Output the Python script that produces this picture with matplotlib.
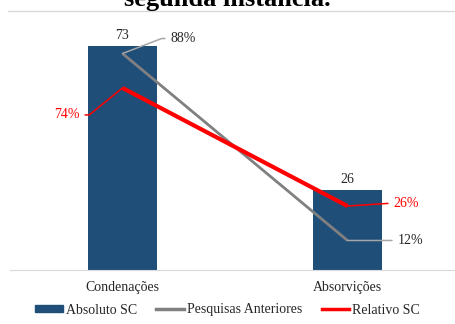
import matplotlib
matplotlib.use("Agg")
import matplotlib.pyplot as plt
from matplotlib.lines import Line2D
from matplotlib.patches import Patch

categories = ["Condenações", "Absorvições"]
absoluto_sc = [73, 26]
pesquisas_anteriores = [0.88, 0.12]
relativo_sc = [0.74, 0.26]
title = "segunda instância."

plt.rcParams["font.family"] = ["Liberation Serif", "DejaVu Serif"]

W, H = 455, 324
fig = plt.figure(figsize=(W / 100, H / 100), dpi=100)

ax = fig.add_axes([10 / W, (H - 270) / H, 450 / W, 246 / H])
ax2 = ax.twinx()

x = list(range(len(categories)))
blue = "#1F4E79"
gray = "#808080"
red = "#FF0000"

ax.bar(x, absoluto_sc, width=0.311, color=blue, zorder=1)
ax.set_xlim(-0.5, 1.5)
ax.set_ylim(0, 80)
ax2.set_ylim(0, 1.0)

for xi, v in zip(x, absoluto_sc):
    ax.annotate(f"{v}", (xi, v), xytext=(0, 4), textcoords="offset pixels",
                ha="center", va="bottom", fontsize=10, color="#262626")

ax2.plot(x, pesquisas_anteriores, color=gray, lw=2.0, solid_capstyle="butt", zorder=3)
ax2.plot(x, relativo_sc, color=red, lw=3.0, solid_capstyle="butt", zorder=4)

def lbl(xi, v, off, ha, col, lcol, angB, relpos):
    if angB is None:
        cs = "arc3,rad=0"
    else:
        cs = f"angle,angleA=0,angleB={angB},rad=0"
    ax2.annotate(f"{round(v * 100)}%", (xi, v), xytext=off, textcoords="offset pixels",
                 ha=ha, va="center", fontsize=10, color=col,
                 arrowprops=dict(arrowstyle="-", color=lcol, lw=1.1,
                                 shrinkA=2, shrinkB=0, relpos=relpos,
                                 connectionstyle=cs))

lbl(x[0], pesquisas_anteriores[0], (48, 15), "left", "#262626", "#A6A6A6", 21, (0, 0.5))
lbl(x[1], pesquisas_anteriores[1], (50, 0), "left", "#262626", "#A6A6A6", None, (0, 0.5))
lbl(x[0], relativo_sc[0], (-43, -27), "right", red, red, 39, (1, 0.5))
lbl(x[1], relativo_sc[1], (46, 3), "left", red, red, None, (0, 0.5))

for a in (ax, ax2):
    for s in ("top", "left", "right"):
        a.spines[s].set_visible(False)
    a.set_yticks([])
ax2.spines["bottom"].set_visible(False)
ax.spines["bottom"].set_color("#D9D9D9")
ax.set_xticks(x)
ax.set_xticklabels(categories, fontsize=10, color="#262626")
ax.tick_params(axis="x", length=0, pad=8)

# top separator line and clipped title
fig.add_artist(Line2D([8 / W, 1], [1 - 10.5 / H, 1 - 10.5 / H], color="#D9D9D9", lw=1))
fig.text(0.5, 1 - 6 / H, title, ha="center", va="baseline", fontsize=19,
         fontweight="bold", color="black")

handles = [Patch(color=blue), Line2D([], [], color=gray, lw=2.5), Line2D([], [], color=red, lw=2.5)]
labels = ["Absoluto SC", "Pesquisas Anteriores", "Relativo SC"]
fig.legend(handles, labels, loc="center", bbox_to_anchor=(0.5, 1 - 310 / H), ncol=3,
           frameon=False, fontsize=10, handlelength=2.0, handleheight=0.45,
           handletextpad=0.2, columnspacing=1.4, labelcolor="#262626")

fig.savefig("out.png", dpi=100)
